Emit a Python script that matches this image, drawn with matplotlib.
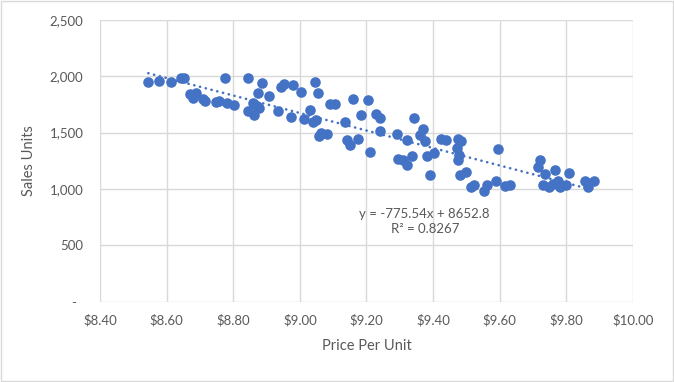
import numpy as np
import matplotlib.pyplot as plt
from matplotlib.ticker import FuncFormatter, MultipleLocator

# price per unit vs sales units
price = [8.545, 8.577, 8.612, 8.642, 8.653, 8.776, 8.844, 8.885, 8.873, 8.906,
         8.942, 8.951, 8.980, 9.004, 8.670, 8.688, 8.679, 8.708, 8.715, 8.748,
         8.758, 8.780, 8.802, 8.843, 8.860, 8.870, 8.877, 8.862, 8.933, 8.973,
         9.013, 9.030, 9.047, 9.056, 9.040, 9.050, 9.057, 9.065, 9.082, 9.090,
         9.105, 9.160, 9.206, 9.184, 9.137, 9.143, 9.152, 9.175, 9.210, 9.228,
         9.240, 9.241, 9.291, 9.321, 9.343, 9.295, 9.310, 9.322, 9.338, 9.362,
         9.371, 9.375, 9.383, 9.390, 9.402, 9.425, 9.440, 9.475, 9.483, 9.473,
         9.477, 9.475, 9.498, 9.482, 9.513, 9.524, 9.552, 9.563, 9.588, 9.615,
         9.632, 9.596, 9.720, 9.716, 9.735, 9.730, 9.748, 9.766, 9.775, 9.760,
         9.782, 9.798, 9.808, 9.855, 9.865, 9.883]
units = [1950, 1959, 1950, 1983, 1983, 1980, 1983, 1939, 1847, 1824,
         1900, 1933, 1918, 1862, 1844, 1853, 1808, 1797, 1782, 1767,
         1782, 1758, 1740, 1693, 1761, 1731, 1713, 1655, 1693, 1640,
         1616, 1702, 1944, 1847, 1593, 1607, 1471, 1500, 1489, 1755,
         1755, 1797, 1788, 1651, 1595, 1436, 1389, 1444, 1323, 1664,
         1631, 1513, 1489, 1436, 1631, 1267, 1252, 1216, 1296, 1477,
         1533, 1424, 1296, 1122, 1317, 1444, 1436, 1444, 1424, 1362,
         1300, 1258, 1154, 1125, 1018, 1036, 985, 1036, 1072, 1030,
         1039, 1353, 1252, 1190, 1131, 1039, 1021, 1167, 1072, 1042,
         1021, 1039, 1145, 1069, 1021, 1069]

# trendline from the chart label
slope = -775.54
intercept = 8652.8
eq_text = "y = -775.54x + 8652.8\nR² = 0.8267"

blue = "#4472C4"
grey = "#595959"
plt.rcParams['font.family'] = ['Lato', 'DejaVu Sans']

fig = plt.figure(figsize=(6.74, 3.82), dpi=100)
ax = fig.add_axes([0.1484, 0.2102, 0.7906, 0.7382])

ax.scatter(price, units, s=58, color=blue, zorder=3, linewidths=0)
xs = np.array([min(price), max(price)])
ax.plot(xs, slope * xs + intercept, color=blue, lw=1.9, ls=(0, (0.05, 2.2)),
        dash_capstyle='round', zorder=4)

ax.set_xlim(8.4, 10.0)
ax.set_ylim(0, 2500)
ax.xaxis.set_major_locator(MultipleLocator(0.2))
ax.yaxis.set_major_locator(MultipleLocator(500))
ax.xaxis.set_major_formatter(FuncFormatter(lambda v, p: f"${v:.2f}"))
ax.yaxis.set_major_formatter(FuncFormatter(lambda v, p: "-  " if abs(v) < 1e-9 else f"{v:,.0f}"))
ax.grid(True, color="#D9D9D9", lw=1)
ax.set_axisbelow(True)
for s in ax.spines.values():
    s.set_visible(False)
ax.tick_params(length=0, labelsize=9.5, labelcolor=grey)
ax.tick_params(axis='y', pad=12)
ax.tick_params(axis='x', pad=9)

ax.set_xlabel("Price Per Unit", fontsize=10.5, color=grey, labelpad=9)
ax.set_ylabel("Sales Units", fontsize=10.5, color=grey, labelpad=10)

ax.text(9.375, 710, eq_text, ha='center', va='center', fontsize=9.5,
        color=grey, linespacing=1.3)

# chart border
fig.patches.append(plt.Rectangle((0.002, 0.003), 0.996, 0.994, transform=fig.transFigure,
                                 fill=False, edgecolor="#D9D9D9", lw=1))

fig.savefig("out.png", dpi=100)
